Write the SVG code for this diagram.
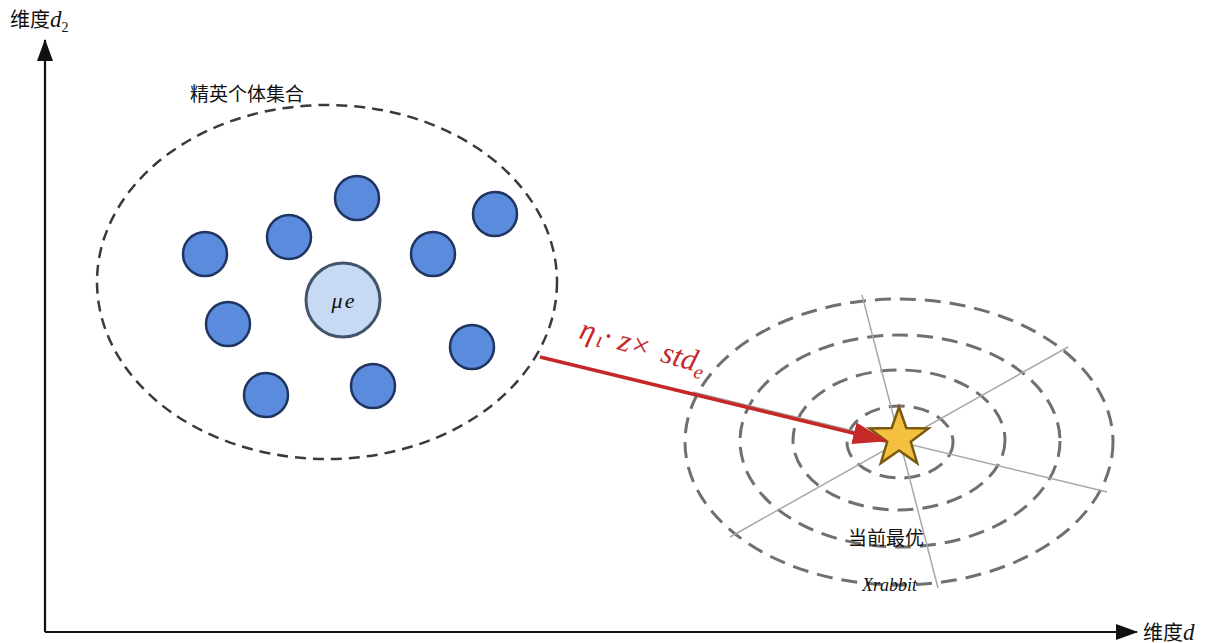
<svg xmlns="http://www.w3.org/2000/svg" width="1206" height="643" viewBox="0 0 1206 643">
<style>
.cjk{font-family:"Liberation Serif","Noto Sans CJK SC",serif;fill:#111}
.ser{font-family:"Liberation Serif",serif;font-style:italic;fill:#111}
.dot{fill:#5B8BDC;stroke:#1F3560;stroke-width:2.5}
.ring{fill:none;stroke:#707070;stroke-width:3;stroke-dasharray:16 9}
.grid{stroke:#A8A8A8;stroke-width:1.5}
.axis{stroke:#111;stroke-width:2.2;fill:none}
</style>
<defs>
<marker id="ah" markerWidth="22" markerHeight="16" refX="21" refY="8" orient="auto" markerUnits="userSpaceOnUse"><path d="M0,0 L22,8 L0,16 Z" fill="#111"/></marker>
<marker id="rh" markerWidth="34" markerHeight="22" refX="33" refY="11" orient="auto" markerUnits="userSpaceOnUse"><path d="M0,0 L34,11 L0,22 Z" fill="#C62828"/></marker>
</defs>
<g id="axes">
<line class="axis" x1="45" y1="632" x2="45" y2="40" marker-end="url(#ah)"/>
<line class="axis" x1="45" y1="632" x2="1137" y2="632" marker-end="url(#ah)"/>
<text class="cjk" x="10" y="27" font-size="20" font-family="Noto Sans CJK SC,sans-serif">维度<tspan font-family="Liberation Serif,serif" font-style="italic" font-size="23">d</tspan><tspan font-family="Liberation Serif,serif" font-size="14" dy="5">2</tspan></text>
<text class="cjk" x="1143" y="640" font-size="20" font-family="Noto Sans CJK SC,sans-serif">维度<tspan font-family="Liberation Serif,serif" font-style="italic" font-size="23">d</tspan></text>
</g>
<g id="elite-set">
<ellipse cx="327" cy="282" rx="230" ry="177" fill="none" stroke="#3A3A3A" stroke-width="2.5" stroke-dasharray="11 7"/>
<text class="cjk" x="190" y="101" font-size="19" font-family="Noto Sans CJK SC,sans-serif">精英个体集合</text>
<circle class="dot" cx="357" cy="198" r="22"/>
<circle class="dot" cx="495" cy="214" r="22"/>
<circle class="dot" cx="289" cy="237" r="22"/>
<circle class="dot" cx="205" cy="254" r="22"/>
<circle class="dot" cx="433" cy="254" r="22"/>
<circle class="dot" cx="228" cy="324" r="22"/>
<circle class="dot" cx="472" cy="347" r="22"/>
<circle class="dot" cx="266" cy="395" r="22"/>
<circle class="dot" cx="373" cy="386" r="22"/>
</g>
<g id="mu-e">
<circle cx="343" cy="300" r="37" fill="#C6DAF4" stroke="#44546A" stroke-width="3"/>
<text class="ser" x="343" y="308" font-size="22" text-anchor="middle">μ<tspan dx="2">e</tspan></text>
</g>
<g id="best">
<ellipse class="ring" cx="899" cy="442" rx="214" ry="143"/>
<ellipse class="ring" cx="900" cy="441" rx="160" ry="106"/>
<ellipse class="ring" cx="899" cy="440" rx="106" ry="70"/>
<ellipse class="ring" cx="900" cy="442" rx="53" ry="36"/>
<line class="grid" x1="862" y1="295" x2="938" y2="588"/>
<line class="grid" x1="730" y1="537" x2="1068" y2="347"/>
<line class="grid" x1="693" y1="392" x2="1107" y2="492"/>
<polygon points="899,407 906.3,428 928.5,428.4 910.8,441.8 917.2,463.1 899,450.4 880.8,463.1 887.2,441.8 869.5,428.4 891.7,428" fill="#F4C040" stroke="#7A5A10" stroke-width="2.5" stroke-linejoin="miter"/>
<text class="cjk" x="848" y="545" font-size="19" font-family="Noto Sans CJK SC,sans-serif">当前最优</text>
<text class="ser" x="862" y="591" font-size="18">Xrabbit</text>
</g>
<g id="connectors">
<line x1="540" y1="357" x2="886" y2="441" stroke="#C62828" stroke-width="3.5" marker-end="url(#rh)"/>
<text transform="translate(578,338) rotate(16)" font-family="Liberation Serif,serif" font-style="italic" font-size="31" fill="#C62828">η<tspan font-size="22" dx="3" dy="3">ι</tspan><tspan dy="-3">· z× </tspan><tspan dx="4">std</tspan><tspan font-size="20" dy="6">e</tspan></text>
</g>
</svg>
